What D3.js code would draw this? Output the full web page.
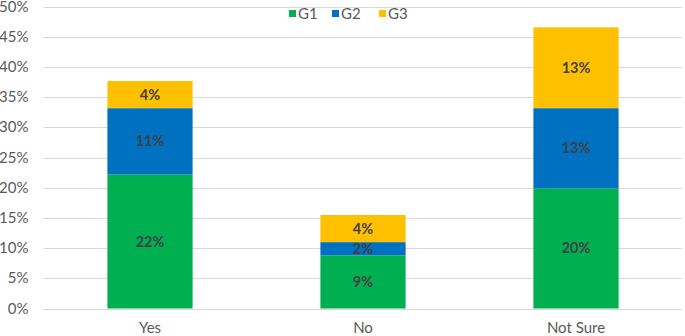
<!DOCTYPE html>
<html>
<head>
<meta charset="utf-8">
<script src="https://cdn.jsdelivr.net/npm/d3@7"></script>
<style>
body { margin: 0; background: #fff; }
text { font-family: Lato, "Noto Sans", sans-serif; }
</style>
</head>
<body>
<div class="chart"></div>
<script>
var categories = ["Yes", "No", "Not Sure"]
var series = ["G1", "G2", "G3"]
var g1 = [22.2, 8.8, 19.9]
var g2 = [11.0, 2.2, 13.3]
var g3 = [4.5, 4.5, 13.4]
var labelsG1 = ["22%", "9%", "20%"]
var labelsG2 = ["11%", "2%", "13%"]
var labelsG3 = ["4%", "4%", "13%"]
var yTicks = [0, 5, 10, 15, 20, 25, 30, 35, 40, 45, 50]
var colors = ["#00b050", "#0070c0", "#ffc000"]

var width = 685, height = 336
var svg = d3.select(".chart").append("svg").attr("width", width).attr("height", height)

//scales
var x = d3.scaleBand().domain(categories).range([43.5, 682.5]).paddingInner(0.6).paddingOuter(0.3)
var y = d3.scaleLinear().domain([0, 50]).range([308.5, 6.8])

//gridlines
svg.append("g").selectAll("line").data(yTicks).enter().append("line")
	.attr("x1", 43.5).attr("x2", 682)
	.attr("y1", function(d){return Math.round(y(d)) + 0.5})
	.attr("y2", function(d){return Math.round(y(d)) + 0.5})
	.attr("stroke", "#d9d9d9").attr("stroke-width", 1)

//y labels
svg.append("g").selectAll("text").data(yTicks).enter().append("text")
	.attr("x", 28.5).attr("y", function(d){return y(d) + 5})
	.attr("text-anchor", "end").attr("fill", "#595959").style("font-size", "15px")
	.text(function(d){return d + "%"})

//stack
var rows = categories.map(function(c, i){return {cat: c, G1: g1[i], G2: g2[i], G3: g3[i]}})
var stacked = d3.stack().keys(series)(rows)
var labels = [labelsG1, labelsG2, labelsG3]

stacked.forEach(function(layer, k) {
	var group = svg.append("g").attr("class", "values " + series[k])
	group.selectAll("rect").data(layer).enter().append("rect")
		.attr("x", function(d){return x(d.data.cat)})
		.attr("width", x.bandwidth())
		.attr("y", function(d){return y(d[1])})
		.attr("height", function(d){return y(d[0]) - y(d[1])})
		.attr("fill", colors[k])
	group.selectAll("text").data(layer).enter().append("text")
		.attr("x", function(d){return x(d.data.cat) + x.bandwidth() / 2})
		.attr("y", function(d){return (y(d[0]) + y(d[1])) / 2 + 5})
		.attr("text-anchor", "middle").attr("fill", "#404040")
		.style("font-size", "14.5px").style("font-weight", "bold")
		.text(function(d, i){return labels[k][i]})
})

//category labels
svg.append("g").selectAll("text").data(categories).enter().append("text")
	.attr("x", function(d){return x(d) + x.bandwidth() / 2})
	.attr("y", 333)
	.attr("text-anchor", "middle").attr("fill", "#595959").style("font-size", "15px")
	.text(function(d){return d})

//legend
var legend = svg.append("g").attr("class", "legend")
var legendX = [289, 332, 379]
series.forEach(function(s, i) {
	legend.append("rect").attr("x", legendX[i]).attr("y", 10).attr("width", 7).attr("height", 7).attr("fill", colors[i])
	legend.append("text").attr("x", legendX[i] + 9).attr("y", 19)
		.attr("fill", "#595959").style("font-size", "15px").text(s)
})
</script>
</body>
</html>
